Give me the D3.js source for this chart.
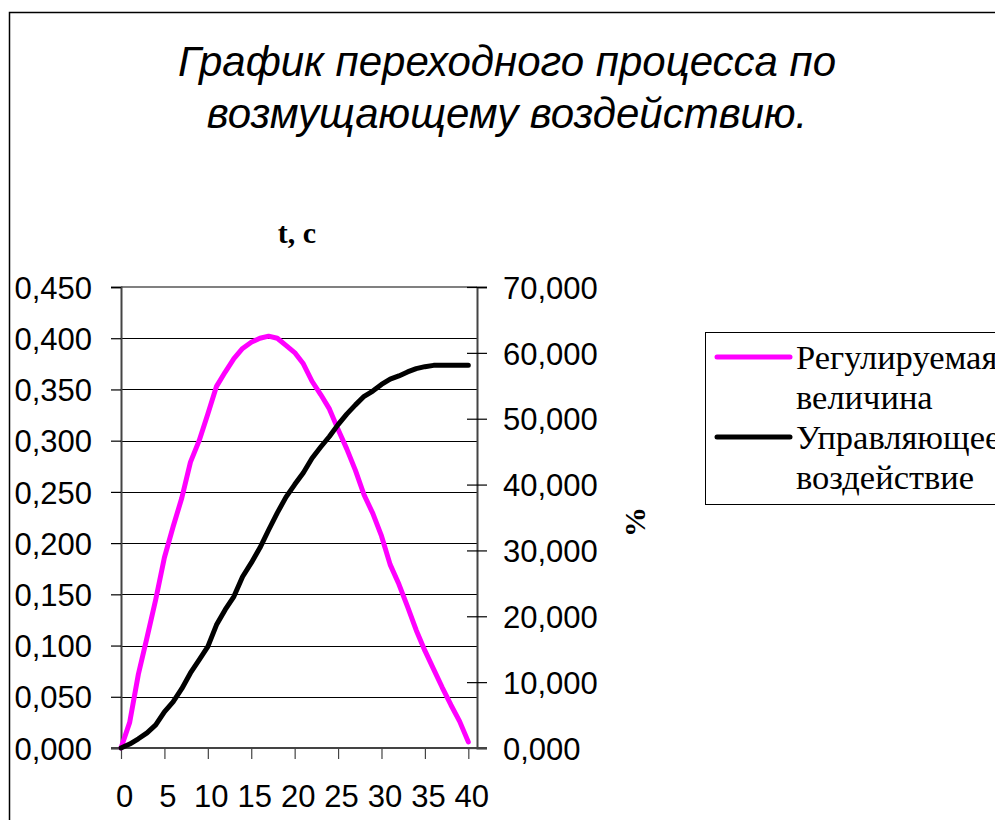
<!DOCTYPE html>
<html>
<head>
<meta charset="utf-8">
<script src="https://cdn.jsdelivr.net/npm/d3@7"></script>
<style>
  body { margin: 0; background: #fff; }
  svg text { fill: #000; }
</style>
</head>
<body>
<div id="chart"></div>
<script>
// время, с
const time = [0, 1, 2, 3, 4, 5, 6, 7, 8, 9, 10, 11, 12, 13, 14, 15, 16, 17, 18, 19, 20,
              21, 22, 23, 24, 25, 26, 27, 28, 29, 30, 31, 32, 33, 34, 35, 36, 37, 38, 39, 40];
// Регулируемая величина (left axis)
const regulated = [0, 0.025, 0.072, 0.108, 0.145, 0.186, 0.216, 0.244, 0.279, 0.300, 0.326,
                   0.353, 0.367, 0.380, 0.390, 0.396, 0.400, 0.402, 0.400, 0.393, 0.386,
                   0.375, 0.358, 0.345, 0.331, 0.311, 0.292, 0.271, 0.247, 0.229, 0.207,
                   0.179, 0.160, 0.138, 0.115, 0.095, 0.077, 0.059, 0.042, 0.026, 0.006];
// Управляющее воздействие, % (right axis)
const control = [0, 0.6, 1.4, 2.3, 3.5, 5.5, 7.0, 9.0, 11.4, 13.4, 15.4,
                 18.7, 21.0, 23.0, 26.0, 28.1, 30.4, 33.1, 35.7, 38.1, 40.0,
                 41.8, 44.0, 45.7, 47.3, 49.1, 50.7, 52.1, 53.4, 54.2, 55.2,
                 56.0, 56.5, 57.1, 57.6, 57.9, 58.1, 58.1, 58.1, 58.1, 58.1];

const xTicks = [0, 5, 10, 15, 20, 25, 30, 35, 40];
const leftTicks = [0, 0.05, 0.1, 0.15, 0.2, 0.25, 0.3, 0.35, 0.4, 0.45];
const rightTicks = [0, 10, 20, 30, 40, 50, 60, 70];
const seriesNames = [["Регулируемая", "величина"], ["Управляющее", "воздействие"]];
const seriesColors = ["#ff00ff", "#000000"];

const W = 995, H = 820;
const plot = { left: 121, right: 477, top: 287, bottom: 748 };

const svg = d3.select("#chart").append("svg")
    .attr("width", W)
    .attr("height", H);

// chart area border (runs off the right and bottom edges)
svg.append("rect")
    .attr("x", 9.5).attr("y", 12.5)
    .attr("width", 1100).attr("height", 900)
    .attr("fill", "none")
    .attr("stroke", "#000")
    .attr("stroke-width", 1.5);

const x = d3.scaleLinear().domain([0, 41]).range([plot.left, plot.right]);
const yL = d3.scaleLinear().domain([0, 0.45]).range([plot.bottom, plot.top]);
const yR = d3.scaleLinear().domain([0, 70]).range([plot.bottom, plot.top]);

const fmt = (n) => d => d3.format("." + n + "f")(d).replace(".", ",");

// title
const title = svg.append("text")
    .attr("text-anchor", "middle")
    .style("font-family", "'Liberation Sans', Arial, sans-serif")
    .style("font-style", "italic")
    .style("font-size", "42px");
title.append("tspan").attr("x", 507).attr("y", 76).text("График переходного процесса по");
title.append("tspan").attr("x", 507).attr("y", 128).text("возмущающему воздействию.");

// gridlines
svg.append("g")
  .selectAll("line")
  .data(leftTicks.filter(d => d > 0 && d < 0.45))
  .join("line")
    .attr("x1", plot.left).attr("x2", plot.right)
    .attr("y1", d => Math.round(yL(d)) + 0.5)
    .attr("y2", d => Math.round(yL(d)) + 0.5)
    .attr("stroke", "#000")
    .attr("stroke-width", 1);

// plot frame top
svg.append("line")
    .attr("x1", plot.left).attr("x2", plot.right)
    .attr("y1", plot.top).attr("y2", plot.top)
    .attr("stroke", "#808080")
    .attr("stroke-width", 2);

// left axis
const gL = svg.append("g")
    .attr("transform", `translate(${plot.left},0)`)
    .call(d3.axisLeft(yL).tickValues(leftTicks).tickFormat(fmt(3)).tickSize(10).tickPadding(19));
gL.select(".domain").attr("stroke", "#444").attr("stroke-width", 2);
gL.selectAll(".tick line").attr("stroke", "#000").attr("stroke-width", 1.2);
gL.selectAll("text")
    .style("font-family", "'Liberation Sans', Arial, sans-serif")
    .style("font-size", "31px")
    .attr("dy", "0.36em");

// right axis
const gR = svg.append("g")
    .attr("transform", `translate(${plot.right},0)`)
    .call(d3.axisRight(yR).tickValues(rightTicks).tickFormat(fmt(3)).tickSize(10).tickPadding(16));
gR.select(".domain").attr("stroke", "#444").attr("stroke-width", 2);
gR.selectAll(".tick line").attr("x1", -10).attr("stroke", "#000").attr("stroke-width", 1.2);
gR.selectAll("text")
    .style("font-family", "'Liberation Sans', Arial, sans-serif")
    .style("font-size", "31px")
    .attr("dy", "0.36em");

// bottom axis
const gB = svg.append("g")
    .attr("transform", `translate(0,${plot.bottom})`)
    .call(d3.axisBottom(x).tickValues(xTicks).tickSize(11).tickPadding(48));
gB.select(".domain").attr("stroke", "#444").attr("stroke-width", 2)
    .attr("d", `M${plot.left - 10},0H${plot.right + 10}`);
gB.selectAll(".tick line").attr("stroke", "#444").attr("stroke-width", 1.2);
gB.selectAll("text")
    .style("font-family", "'Liberation Sans', Arial, sans-serif")
    .style("font-size", "31px")
    .attr("dx", 3)
    .attr("dy", 0);

// axis titles
svg.append("text")
    .attr("x", 297).attr("y", 243)
    .attr("text-anchor", "middle")
    .style("font-family", "'Liberation Serif', 'Times New Roman', serif")
    .style("font-weight", "bold")
    .style("font-size", "30px")
    .text("t, c");

svg.append("text")
    .attr("transform", "translate(645,522) rotate(-90)")
    .attr("text-anchor", "middle")
    .style("font-family", "'Liberation Serif', 'Times New Roman', serif")
    .style("font-weight", "bold")
    .style("font-size", "30px")
    .text("%");

// lines
const lineL = d3.line().x((d, i) => x(time[i])).y(d => yL(d));
const lineR = d3.line().x((d, i) => x(time[i])).y(d => yR(d));

svg.append("path")
    .datum(regulated)
    .attr("d", lineL)
    .attr("fill", "none")
    .attr("stroke", seriesColors[0])
    .attr("stroke-width", 5)
    .attr("stroke-linejoin", "round")
    .attr("stroke-linecap", "round");

svg.append("path")
    .datum(control)
    .attr("d", lineR)
    .attr("fill", "none")
    .attr("stroke", seriesColors[1])
    .attr("stroke-width", 5)
    .attr("stroke-linejoin", "round")
    .attr("stroke-linecap", "round");

// legend
const legend = svg.append("g");
legend.append("rect")
    .attr("x", 705.5).attr("y", 332.5)
    .attr("width", 400).attr("height", 172)
    .attr("fill", "#fff")
    .attr("stroke", "#000")
    .attr("stroke-width", 1);

seriesNames.forEach((names, i) => {
  const ly = 357 + i * 80;
  legend.append("line")
      .attr("x1", 717).attr("x2", 790)
      .attr("y1", ly).attr("y2", ly)
      .attr("stroke", seriesColors[i])
      .attr("stroke-width", 5)
      .attr("stroke-linecap", "round");
  names.forEach((t, j) => {
    legend.append("text")
        .attr("x", 796)
        .attr("y", 369 + i * 80 + j * 40)
        .style("font-family", "'Liberation Serif', 'Times New Roman', serif")
        .style("font-size", "34.5px")
        .text(t);
  });
});
</script>
</body>
</html>
